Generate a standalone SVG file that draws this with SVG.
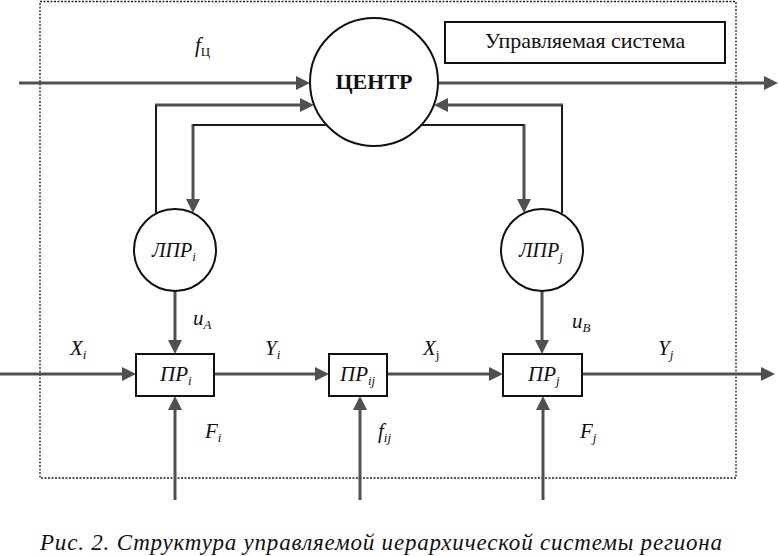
<svg xmlns="http://www.w3.org/2000/svg" width="779" height="556" viewBox="0 0 779 556">
<rect width="779" height="556" fill="#fff"/>
<rect x="40" y="1.5" width="696" height="476.5" fill="none" stroke="#222" stroke-width="1.3" stroke-dasharray="2,1.5"/>

<g id="connectors">
<g fill="none" stroke="#505050" stroke-width="3">
<path d="M19,83 H297"/>
<path d="M437,83 H765"/>
<path d="M155,105 H301"/>
<path d="M193,124 V200"/>
<path d="M563,105 H447"/>
<path d="M524,124 V200"/>
<path d="M175,291 V341"/>
<path d="M542,291 V341"/>
<path d="M0,374 H123"/>
<path d="M214,374 H316"/>
<path d="M387,374 H490"/>
<path d="M582,374 H762"/>
<path d="M175,500 V409"/>
<path d="M360,500 V409"/>
<path d="M543,500 V409"/>
</g>
<g fill="none" stroke="#1a1a1a" stroke-width="2">
<path d="M156,213 V105"/>
<path d="M327,125 H193"/>
<path d="M562,213 V105"/>
<path d="M421,125 H524"/>
</g>
<g fill="#505050">
<polygon points="296,76 310,83 296,90"/>
<polygon points="764,76 778,83 764,90"/>
<polygon points="300,98 314,105 300,112"/>
<polygon points="186,199 193,213 200,199"/>
<polygon points="448,98 434,105 448,112"/>
<polygon points="517,199 524,213 531,199"/>
<polygon points="168,340 175,354 182,340"/>
<polygon points="535,340 542,354 549,340"/>
<polygon points="122,367 136,374 122,381"/>
<polygon points="315,367 329,374 315,381"/>
<polygon points="489,367 503,374 489,381"/>
<polygon points="761,367 775,374 761,381"/>
<polygon points="168,410 175,396 182,410"/>
<polygon points="353,410 360,396 367,410"/>
<polygon points="536,410 543,396 550,410"/>
</g>
</g>

<g id="label-box">
<rect x="445" y="22" width="280" height="41" fill="#fff" stroke="#111" stroke-width="2"/>
<text x="585" y="48" font-family="Times New Roman, serif" font-size="22" text-anchor="middle" fill="#111">Управляемая система</text>
</g>

<g id="center">
<circle cx="374" cy="82" r="64" fill="#fff" stroke="#111" stroke-width="2"/>
<text x="374" y="89" font-family="Times New Roman, serif" font-size="22" font-weight="bold" text-anchor="middle" fill="#111">ЦЕНТР</text>
</g>

<g id="lpr-i">
<circle cx="175" cy="250" r="41" fill="#fff" stroke="#111" stroke-width="2"/>
<text x="152" y="257" font-family="Times New Roman, serif" font-size="20" font-style="italic" fill="#111">ЛПР<tspan font-size="13" dy="4">i</tspan></text>
</g>

<g id="lpr-j">
<circle cx="542" cy="250" r="41" fill="#fff" stroke="#111" stroke-width="2"/>
<text x="519" y="257" font-family="Times New Roman, serif" font-size="20" font-style="italic" fill="#111">ЛПР<tspan font-size="13" dy="4">j</tspan></text>
</g>

<g id="pr-i">
<rect x="136" y="354" width="78" height="42" fill="#fff" stroke="#111" stroke-width="2"/>
<text x="160" y="381" font-family="Times New Roman, serif" font-size="21" font-style="italic" fill="#111">ПР<tspan font-size="13" dy="4">i</tspan></text>
</g>

<g id="pr-ij">
<rect x="329" y="354" width="58" height="42" fill="#fff" stroke="#111" stroke-width="2"/>
<text x="340" y="381" font-family="Times New Roman, serif" font-size="21" font-style="italic" fill="#111">ПР<tspan font-size="13" dy="4">ij</tspan></text>
</g>

<g id="pr-j">
<rect x="503" y="354" width="79" height="42" fill="#fff" stroke="#111" stroke-width="2"/>
<text x="528" y="381" font-family="Times New Roman, serif" font-size="21" font-style="italic" fill="#111">ПР<tspan font-size="13" dy="4">j</tspan></text>
</g>

<g id="labels">
<text x="195" y="52" font-family="Times New Roman, serif" font-size="21" font-style="italic" fill="#111">f<tspan font-size="13" font-style="normal" dy="4">Ц</tspan></text>
<text x="70" y="355" font-family="Times New Roman, serif" font-size="21" font-style="italic" fill="#111">X<tspan font-size="13" dy="4">i</tspan></text>
<text x="265" y="355" font-family="Times New Roman, serif" font-size="21" font-style="italic" fill="#111">Y<tspan font-size="13" dy="4">i</tspan></text>
<text x="423" y="355" font-family="Times New Roman, serif" font-size="21" font-style="italic" fill="#111">X<tspan font-size="13" font-style="normal" dy="4">j</tspan></text>
<text x="658" y="355" font-family="Times New Roman, serif" font-size="21" font-style="italic" fill="#111">Y<tspan font-size="13" dy="4">j</tspan></text>
<text x="193" y="325" font-family="Times New Roman, serif" font-size="21" font-style="italic" fill="#111">u<tspan font-size="13" dy="4">A</tspan></text>
<text x="572" y="328" font-family="Times New Roman, serif" font-size="21" font-style="italic" fill="#111">u<tspan font-size="13" dy="4">B</tspan></text>
<text x="205" y="438" font-family="Times New Roman, serif" font-size="21" font-style="italic" fill="#111">F<tspan font-size="13" dy="4">i</tspan></text>
<text x="378" y="438" font-family="Times New Roman, serif" font-size="21" font-style="italic" fill="#111">f<tspan font-size="13" dy="4">ij</tspan></text>
<text x="580" y="438" font-family="Times New Roman, serif" font-size="21" font-style="italic" fill="#111">F<tspan font-size="13" dy="4">j</tspan></text>
</g>

<text x="40" y="550" font-family="Times New Roman, serif" font-size="23" font-style="italic" fill="#111" textLength="682" lengthAdjust="spacing">Рис. 2. Структура управляемой иерархической системы региона</text>
</svg>
